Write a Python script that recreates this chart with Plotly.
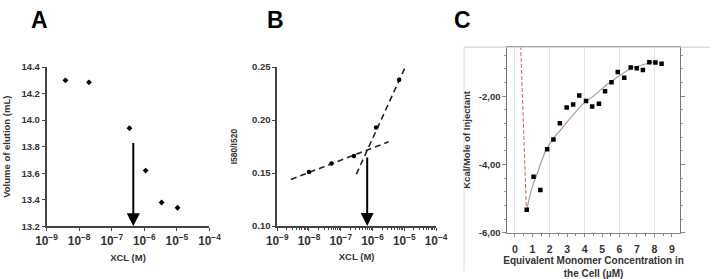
import numpy as np
import plotly.graph_objects as go

# ---------------- Panel A data ----------------
A_x = [3.8e-9, 2.0e-8, 3.5e-7, 1.1e-6, 3.4e-6, 1.05e-5]
A_y = [14.30, 14.285, 13.94, 13.62, 13.38, 13.34]
A_arrow_x = 4.6e-7
A_arrow_top = 13.84
A_ytitle = "Volume of elution (mL)"

# ---------------- Panel B data ----------------
B_x = [1.0e-8, 5.1e-8, 2.6e-7, 1.3e-6, 6.9e-6]
B_y = [0.151, 0.159, 0.166, 0.193, 0.238]
B_fit1_x = [2.7e-9, 3.2e-6]
B_fit1_y = [0.144, 0.1795]
B_fit2_x = [3.1e-7, 1.15e-5]
B_fit2_y = [0.149, 0.252]
B_arrow_x = 6.8e-7
B_arrow_top = 0.166
B_ytitle = "I580/I520"

# ---------------- Panel C data ----------------
C_x = [0.68, 1.07, 1.46, 1.85, 2.21, 2.58, 2.97, 3.34, 3.69, 4.08, 4.43,
       4.82, 5.17, 5.54, 5.90, 6.27, 6.64, 6.99, 7.34, 7.71, 8.06, 8.41]
C_y = [-5.33, -4.36, -4.75, -3.55, -3.27, -2.79, -2.33, -2.24, -1.98, -2.14, -2.30,
       -2.22, -1.85, -1.59, -1.29, -1.46, -1.16, -1.18, -1.23, -1.00, -1.01, -1.05]
C_fit_x = [0.68, 1.0, 1.26, 1.5, 1.82, 2.2, 2.6, 3.0, 3.5, 4.0, 4.4, 5.0, 5.5,
           6.0, 6.6, 7.2, 7.9, 8.1]
C_fit_y = [-5.33, -4.65, -4.3, -3.95, -3.54, -3.24, -3.0, -2.75, -2.45, -2.18,
           -2.04, -1.78, -1.57, -1.4, -1.2, -1.1, -1.0, -0.97]
C_red_x = [0.30, 0.66]
C_red_y = [0.0, -5.33]
C_ytick_vals = [-6, -4, -2]
C_ytick_text = ["-6,00", "-4,00", "-2,00"]
C_xtick_vals = list(range(0, 10))
C_ytitle = "Kcal/Mole of Injectant"
C_xtitle = "Equivalent Monomer Concentration in<br>the Cell (µM)"

X_title_AB = "XCL (M)"
panel_letters = ["A", "B", "C"]

FONT = "Liberation Sans"
TXT = "#333333"
AXC = "#444444"

fig = go.Figure()

# Panel A
fig.add_trace(go.Scatter(x=A_x, y=A_y, mode="markers", xaxis="x", yaxis="y",
                         marker=dict(symbol="diamond", size=4.5, color="black"),
                         showlegend=False))
# Panel B
fig.add_trace(go.Scatter(x=B_fit1_x, y=B_fit1_y, mode="lines", xaxis="x2", yaxis="y2",
                         line=dict(color="#222", width=1.6, dash="6px,4px"), showlegend=False))
fig.add_trace(go.Scatter(x=B_fit2_x, y=B_fit2_y, mode="lines", xaxis="x2", yaxis="y2",
                         line=dict(color="#222", width=1.6, dash="6px,4px"), showlegend=False))
fig.add_trace(go.Scatter(x=B_x, y=B_y, mode="markers", xaxis="x2", yaxis="y2",
                         marker=dict(symbol="circle", size=4.5, color="black"), showlegend=False))
# Panel C
fig.add_trace(go.Scatter(x=C_red_x, y=C_red_y, mode="lines", xaxis="x3", yaxis="y3",
                         line=dict(color="#d06060", width=1, dash="4px,2px"), showlegend=False))
fig.add_trace(go.Scatter(x=C_fit_x, y=C_fit_y, mode="lines", xaxis="x3", yaxis="y3",
                         line=dict(color="#b09898", width=1.2, shape="spline"), showlegend=False))
fig.add_trace(go.Scatter(x=C_x, y=C_y, mode="markers", xaxis="x3", yaxis="y3",
                         marker=dict(symbol="square", size=4.5, color="black"), showlegend=False))
# grid-only helper axis for panel C (grid at even values)
fig.add_trace(go.Scatter(x=[C_xtick_vals[0]], y=[C_ytick_vals[0]], mode="markers",
                         xaxis="x4", yaxis="y3", marker=dict(opacity=0), showlegend=False,
                         hoverinfo="skip"))

tickfont = dict(family=FONT, size=9.5, color=TXT, weight="bold")
titlefont = dict(family=FONT, size=9.5, color=TXT, weight="bold")

logx_common = dict(type="log", range=[-9, -4], dtick=1, exponentformat="power",
                   showexponent="all", showline=True, linecolor=AXC, linewidth=1.5,
                   ticks="outside", ticklen=3, tickcolor=AXC, tickwidth=1.2,
                   showgrid=False, zeroline=False, tickfont=tickfont,
                   title=dict(text=X_title_AB, font=titlefont, standoff=7))

yA_dom = [47 / 279, 214.7 / 279]
fig.update_layout(
    width=722, height=279, margin=dict(l=0, r=0, t=0, b=0),
    paper_bgcolor="white", plot_bgcolor="white",
    xaxis=dict(domain=[36.7 / 722, 205 / 722], anchor="y", **logx_common),
    yaxis=dict(domain=yA_dom, anchor="x", range=[13.2, 14.4], dtick=0.2, tickformat=".1f",
               showline=True, linecolor=AXC, linewidth=1.5, ticks="outside", ticklen=3,
               tickcolor=AXC, showgrid=False, zeroline=False, tickfont=tickfont,
               title=dict(text=A_ytitle, font=titlefont, standoff=9)),
    xaxis2=dict(domain=[275 / 722, 439 / 722], anchor="y2",
                minor=dict(ticks="outside", ticklen=2, tickcolor=AXC, showgrid=False),
                **logx_common),
    yaxis2=dict(domain=[47.3 / 279, 214.7 / 279], anchor="x2", range=[0.10, 0.25], dtick=0.05,
                tickformat=".2f", showline=True, linecolor=AXC, linewidth=1.5, ticks="outside",
                ticklen=3, tickcolor=AXC, showgrid=False, zeroline=False, tickfont=tickfont,
                title=dict(text=B_ytitle, font=dict(family=FONT, size=8.5, color=TXT, weight="bold"),
                           standoff=13)),
    xaxis3=dict(domain=[512.7 / 722, 690.7 / 722], anchor="y3", range=[-0.43, 9.45],
                tickvals=C_xtick_vals, showline=True, linecolor="#888", linewidth=1, mirror=True,
                ticks="outside", ticklen=3, tickcolor="#888", ticklabelstandoff=4,
                minor=dict(dtick=0.5, ticks="outside", ticklen=2, tickcolor="#888"),
                showgrid=False, zeroline=False,
                tickfont=dict(family=FONT, size=10.5, color=TXT, weight="bold"),
                title=dict(text=C_xtitle, font=dict(family=FONT, size=10, color=TXT, weight="bold"),
                           standoff=4)),
    xaxis4=dict(domain=[512.7 / 722, 690.7 / 722], anchor="y3", overlaying="x3",
                range=[-0.43, 9.45], dtick=2, tick0=0, showgrid=True, gridcolor="#dde6ec",
                gridwidth=1, showticklabels=False, ticks="", showline=False, zeroline=False),
    yaxis3=dict(domain=[40.3 / 279, 235.7 / 279], anchor="x3", range=[-6, -0.56],
                tickvals=C_ytick_vals, ticktext=C_ytick_text, showline=True, linecolor="#777",
                linewidth=1, mirror="ticks", ticks="outside", ticklen=4, tickcolor="#888",
                minor=dict(dtick=0.4, tick0=-6, ticks="outside", ticklen=2, tickcolor="#999"),
                showgrid=False, zeroline=False, tickfont=tickfont,
                title=dict(text=C_ytitle, font=titlefont, standoff=6)),
)

# arrows (data coordinates; log axes use log10 positions)
for xr, yr, ax_x, y_bot, y_top in [("x", "y", A_arrow_x, 13.2, A_arrow_top),
                                   ("x2", "y2", B_arrow_x, 0.10, B_arrow_top)]:
    fig.add_annotation(x=np.log10(ax_x), y=y_bot, ax=np.log10(ax_x), ay=y_top,
                       xref=xr, yref=yr, axref=xr, ayref=yr, text="", showarrow=True,
                       arrowhead=2, arrowsize=1.3, arrowwidth=2, arrowcolor="black")

# panel letters
for letter, px in zip(panel_letters, [29.5, 273.5, 466.7]):
    fig.add_annotation(x=px / 722, y=1 - 14.5 / 279, xref="paper", yref="paper",
                       text=letter, showarrow=False, xanchor="center", yanchor="middle",
                       font=dict(family=FONT, size=23, color="black", weight="bold"))

# light outer frame of panel C
fig.add_shape(type="line", xref="paper", yref="paper", x0=468 / 722, x1=1,
              y0=235.7 / 279, y1=235.7 / 279, line=dict(color="#cccccc", width=1))
fig.add_shape(type="line", xref="paper", yref="paper", x0=468 / 722, x1=468 / 722,
              y0=0, y1=235.7 / 279, line=dict(color="#dddddd", width=1))

fig.write_html("out.html")
